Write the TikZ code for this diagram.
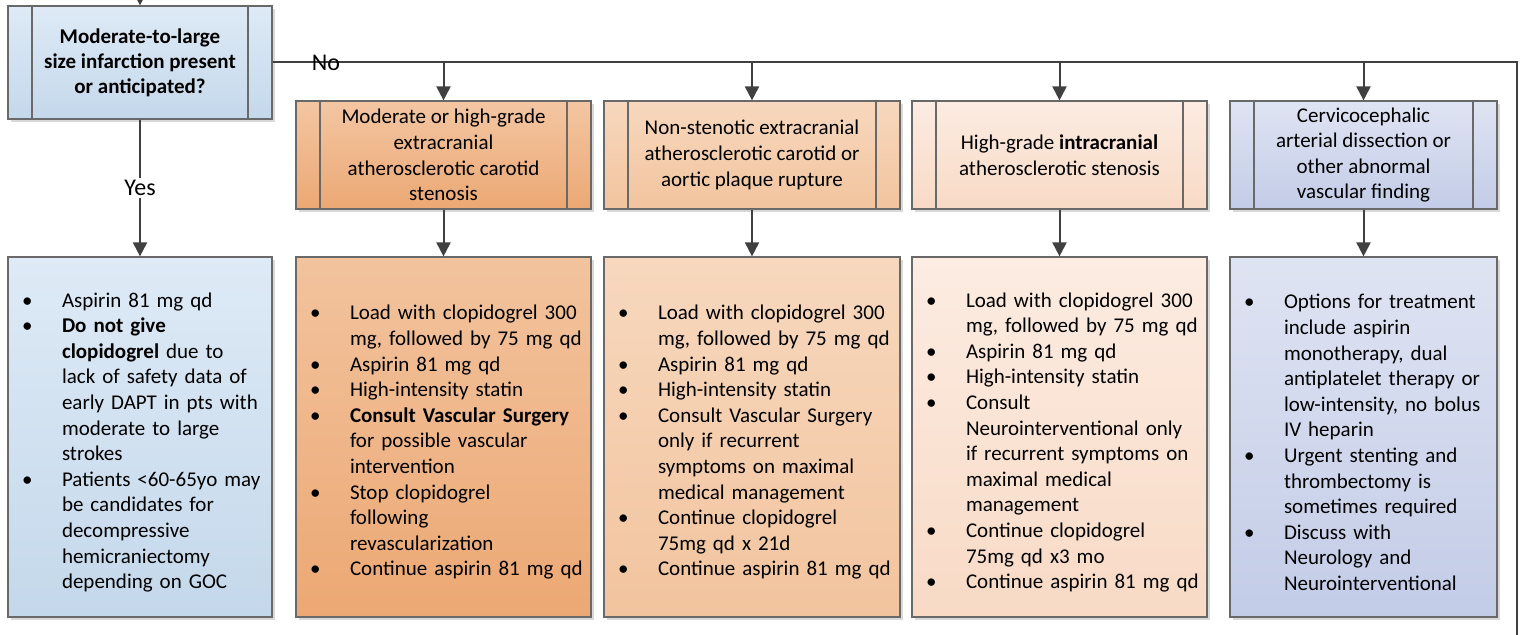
\documentclass[tikz,border=0pt]{standalone}
\usepackage{fontspec}
\setmainfont{Carlito}
\usetikzlibrary{arrows.meta, positioning, shadows}
\definecolor{boxgray}{RGB}{105,105,105}
\definecolor{flowgray}{RGB}{64,64,64}
\definecolor{bluetop}{RGB}{222,234,246}
\definecolor{bluebot}{RGB}{196,216,235}
\definecolor{orgtop}{RGB}{243,198,162}
\definecolor{orgbot}{RGB}{236,168,116}
\definecolor{pchtop}{RGB}{247,216,190}
\definecolor{pchbot}{RGB}{242,196,158}
\definecolor{lpctop}{RGB}{252,236,226}
\definecolor{lpcbot}{RGB}{248,218,197}
\definecolor{lavtop}{RGB}{223,228,243}
\definecolor{lavbot}{RGB}{195,204,231}

% bullet list used inside the treatment boxes
\newenvironment{rxlist}{\begin{list}{\hspace*{5pt}\textbullet}{%
    \setlength{\leftmargin}{25pt}\setlength{\labelwidth}{25pt}%
    \setlength{\labelsep}{0pt}\setlength{\itemsep}{0pt}%
    \setlength{\parsep}{0pt}\setlength{\topsep}{0pt}\setlength{\partopsep}{0pt}%
    \renewcommand{\makelabel}[1]{##1\hfil}}}{\end{list}}

\tikzset{
  box/.style={draw=boxgray, line width=0.6pt, inner xsep=2pt, inner ysep=0pt,
    drop shadow={shadow xshift=1.3pt, shadow yshift=-1.3pt, opacity=0.3}},
  subproc/.style={box, align=center,
    path picture={\draw[boxgray, line width=0.6pt]
      ([xshift=12pt]path picture bounding box.north west) -- ([xshift=12pt]path picture bounding box.south west)
      ([xshift=-12pt]path picture bounding box.north east) -- ([xshift=-12pt]path picture bounding box.south east);}},
  decision/.style={subproc, minimum width=132pt, minimum height=56.5pt,
    font=\fontsize{10.5}{12.5}\selectfont\bfseries},
  hdr/.style={subproc, minimum width=147.5pt, minimum height=54pt,
    font=\fontsize{10.5}{12.8}\selectfont},
  rxbox/.style={box, minimum height=180pt, align=left,
    font=\fontsize{10.5}{12.8}\selectfont},
  flow/.style={-{Triangle[length=7pt, width=7pt]}, line width=1pt, flowgray},
  branch/.style={line width=1pt, flowgray},
  lbl/.style={font=\fontsize{12}{14}\selectfont, text=black, inner sep=1pt},
}

\begin{document}
\begin{tikzpicture}[x=0.5pt, y=-0.5pt]
  \clip (0,0) rectangle (1525,635);

  % --- Question ---
  \node[decision, top color=bluetop, bottom color=bluebot] (dec) at (140,62.5)
    {Moderate-to-large\\size infarction present\\or anticipated?};
  \coordinate (entry) at (140,-30);
  \draw[flow] (entry) -- (dec);

  % --- Vessel findings (No branch) ---
  \node[hdr, top color=orgtop, bottom color=orgbot] (hdr1) at (443.5,155)
    {Moderate or high-grade\\extracranial\\atherosclerotic carotid\\stenosis};
  \node[hdr, minimum width=148pt, top color=pchtop, bottom color=pchbot] (hdr2) at (752,155)
    {Non-stenotic extracranial\\atherosclerotic carotid or\\aortic plaque rupture};
  \node[hdr, top color=lpctop, bottom color=lpcbot] (hdr3) at (1059.5,155)
    {High-grade \textbf{intracranial}\\atherosclerotic stenosis};
  \node[hdr, minimum width=133.5pt, top color=lavtop, bottom color=lavbot] (hdr4) at (1363.5,155)
    {Cervicocephalic\\arterial dissection or\\other abnormal\\vascular finding};

  % --- Treatment boxes ---
  \node[rxbox, text width=128pt, top color=bluetop, bottom color=bluebot] (rx0) at (140,437)
    {\begin{rxlist}
      \item Aspirin 81 mg qd
      \item \textbf{Do not give\\clopidogrel} due to\\lack of safety data of\\early DAPT in pts with\\moderate to large\\strokes
      \item Patients <60-65yo may\\be candidates for\\decompressive\\hemicraniectomy\\depending on GOC
    \end{rxlist}};
  \node[rxbox, text width=143.5pt, top color=orgtop!90!orgbot, bottom color=orgbot] (rx1) at (443.5,437)
    {\begin{rxlist}
      \item Load with clopidogrel 300\\mg, followed by 75 mg qd
      \item Aspirin 81 mg qd
      \item High-intensity statin
      \item \textbf{Consult Vascular Surgery}\\for possible vascular\\intervention
      \item Stop clopidogrel\\following\\revascularization
      \item Continue aspirin 81 mg qd
    \end{rxlist}};
  \node[rxbox, text width=144pt, top color=pchtop, bottom color=pchbot] (rx2) at (752,437)
    {\begin{rxlist}
      \item Load with clopidogrel 300\\mg, followed by 75 mg qd
      \item Aspirin 81 mg qd
      \item High-intensity statin
      \item Consult Vascular Surgery\\only if recurrent\\symptoms on maximal\\medical management
      \item Continue clopidogrel\\75mg qd x 21d
      \item Continue aspirin 81 mg qd
    \end{rxlist}};
  \node[rxbox, text width=143.5pt, top color=lpctop, bottom color=lpcbot] (rx3) at (1059.5,437)
    {\begin{rxlist}
      \item Load with clopidogrel 300\\mg, followed by 75 mg qd
      \item Aspirin 81 mg qd
      \item High-intensity statin
      \item Consult\\Neurointerventional only\\if recurrent symptoms on\\maximal medical\\management
      \item Continue clopidogrel\\75mg qd x3 mo
      \item Continue aspirin 81 mg qd
    \end{rxlist}};
  \node[rxbox, text width=129.5pt, top color=lavtop, bottom color=lavbot] (rx4) at (1363.5,437)
    {\begin{rxlist}
      \item Options for treatment\\include aspirin\\monotherapy, dual\\antiplatelet therapy or\\low-intensity, no bolus\\IV heparin
      \item Urgent stenting and\\thrombectomy is\\sometimes required
      \item Discuss with\\Neurology and\\Neurointerventional
    \end{rxlist}};

  % --- Connectors ---
  \draw[flow] (dec) -- node[lbl, fill=white] (yes) {Yes} (rx0);
  \coordinate (turn) at (1517,62.5);
  \coordinate (offpage) at (1517,660);
  \draw[branch] (dec.east) -- (turn) -- (offpage);
  \node[lbl] (no) at (326,63) {No};
  \foreach \i in {1,...,4}{
    \coordinate (b\i) at (hdr\i |- dec.east);
    \draw[flow] (b\i) -- (hdr\i);
    \draw[flow] (hdr\i) -- (rx\i);
  }
\end{tikzpicture}
\end{document}
